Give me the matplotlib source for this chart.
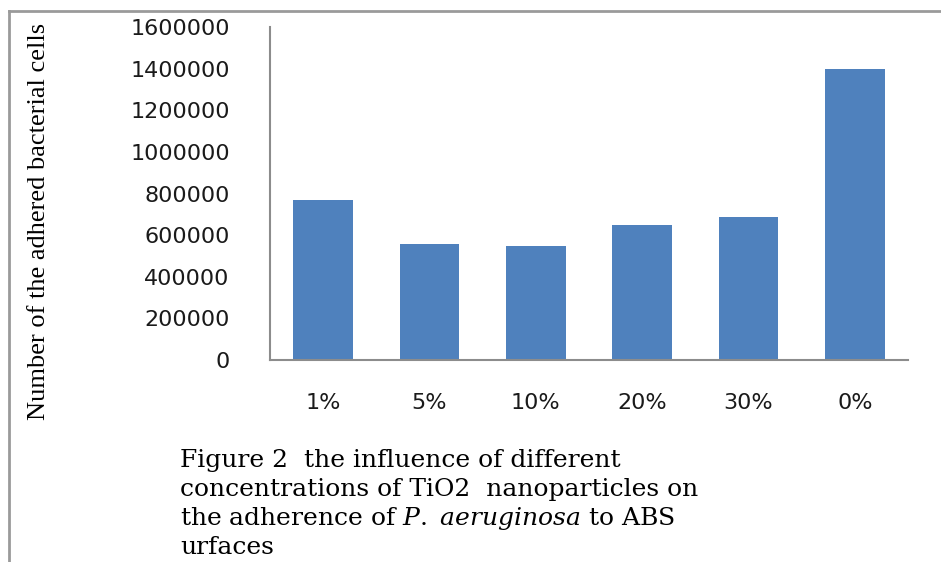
import matplotlib
matplotlib.use("Agg")
import matplotlib.pyplot as plt
from matplotlib.lines import Line2D

# data
categories = ["1%", "5%", "10%", "20%", "30%", "0%"]
cell_counts = [770000, 557000, 548000, 650000, 688000, 1400000]
y_ticks = [0, 200000, 400000, 600000, 800000, 1000000, 1200000, 1400000, 1600000]

plt.rcParams["mathtext.fontset"] = "custom"
plt.rcParams["mathtext.it"] = "DejaVu Serif:italic"
plt.rcParams["mathtext.rm"] = "DejaVu Serif"

W, H = 941, 562
fig = plt.figure(figsize=(W / 100, H / 100), dpi=100)
ax = fig.add_axes([270 / W, 1 - 360 / H, (908 - 270) / W, (360 - 27) / H])

x = range(len(categories))
ax.bar(x, cell_counts, width=0.56, color="#4F81BD")
ax.set_xlim(-0.5, len(categories) - 0.5)
ax.set_ylim(0, 1600000)
ax.set_xticks(list(x))
ax.set_xticklabels(categories)
ax.set_yticks(y_ticks)
ax.set_yticklabels([str(v) for v in y_ticks])

for s in ["top", "right"]:
    ax.spines[s].set_visible(False)
for s in ["left", "bottom"]:
    ax.spines[s].set_color("#8c8c8c")
    ax.spines[s].set_linewidth(1.5)

ax.tick_params(axis="both", length=0, labelsize=16, labelcolor="#1a1a1a")
ax.tick_params(axis="y", pad=29)
ax.tick_params(axis="x", pad=24)

fig.text(39 / W, 1 - 221 / H, "Number of the adhered bacterial cells",
         rotation=90, ha="center", va="center",
         family="Liberation Serif", fontsize=19)

caption = [
    "Figure 2  the influence of different",
    "concentrations of TiO2  nanoparticles on",
    r"the adherence of $\mathit{P.\ aeruginosa}$ to ABS",
    "urfaces",
]
baselines = [467, 496, 525, 554]
for line, yb in zip(caption, baselines):
    fig.text(180 / W, 1 - yb / H, line, ha="left", va="baseline",
             family="DejaVu Serif", fontsize=18)

# gray frame at top and left
fig.add_artist(Line2D([9 / W, 1], [1 - 11 / H, 1 - 11 / H], color="#9a9a9a", lw=2))
fig.add_artist(Line2D([9 / W, 9 / W], [0, 1 - 11 / H], color="#9a9a9a", lw=2))

fig.savefig("out.png", dpi=100)
